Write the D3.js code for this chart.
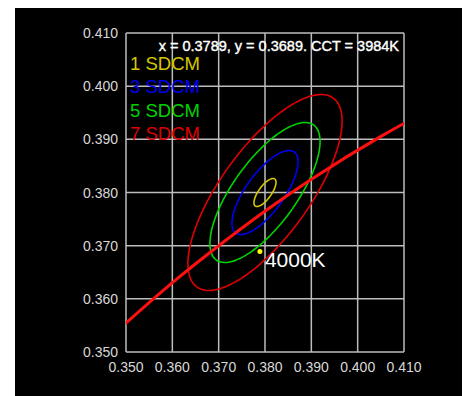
<!DOCTYPE html>
<html>
<head>
<script src="https://cdn.jsdelivr.net/npm/d3@7"></script>
<style>
  body { margin: 0; background: #fff; }
  text { font-family: "Liberation Sans", Arial, sans-serif; }
</style>
</head>
<body>
<svg width="466" height="396"></svg>
<script>
// axis ticks
var ticks = [0.350, 0.360, 0.370, 0.380, 0.390, 0.400, 0.410];

// planckian locus (CIE 1931 x, y), ascending x
var locusX = [0.3451, 0.3608, 0.3684, 0.3805, 0.3897, 0.4053, 0.4234, 0.4369];
var locusY = [0.3516, 0.3636, 0.3689, 0.3768, 0.3823, 0.3907, 0.3990, 0.4041];

// macadam ellipses: centre, 1-step semi axes, rotation (deg)
var ellCx = 0.3800, ellCy = 0.3800;
var ellA = 0.0033, ellB = 0.0013, ellTheta = 49;
var steps = [1, 3, 5, 7];
var stepLabels = ["1 SDCM", "3 SDCM", "5 SDCM", "7 SDCM"];
var stepColors = ["#d6c800", "#0000f0", "#00d400", "#e00000"];

// measured point
var ptX = 0.3789, ptY = 0.3689, cct = 3984;
var ptLabel = "4000K";

var svg = d3.select("svg");
svg.append("rect").attr("x", 15).attr("y", 8).attr("width", 447).attr("height", 388).attr("fill", "#000");

var x = d3.scaleLinear().domain([0.35, 0.41]).range([126, 404]);
var y = d3.scaleLinear().domain([0.35, 0.41]).range([352, 33]);

svg.append("clipPath").attr("id", "clip")
  .append("rect").attr("x", 126).attr("y", 33).attr("width", 278).attr("height", 319);

// grid
svg.selectAll(".gx").data(ticks).enter().append("line")
  .attr("x1", function(d){ return x(d) }).attr("x2", function(d){ return x(d) })
  .attr("y1", y(0.35)).attr("y2", y(0.41))
  .attr("stroke", "#bdbdbd").attr("stroke-width", 1.5)
svg.selectAll(".gy").data(ticks).enter().append("line")
  .attr("y1", function(d){ return y(d) }).attr("y2", function(d){ return y(d) })
  .attr("x1", x(0.35)).attr("x2", x(0.41))
  .attr("stroke", "#bdbdbd").attr("stroke-width", 1.5)

// tick labels
svg.selectAll(".tx").data(ticks).enter().append("text")
  .attr("x", function(d){ return x(d) }).attr("y", 372)
  .attr("text-anchor", "middle").attr("fill", "#d8d8d8").attr("font-size", 14)
  .text(function(d){ return d.toFixed(3) })
svg.selectAll(".ty").data(ticks).enter().append("text")
  .attr("x", 118).attr("y", function(d){ return y(d) + 5 })
  .attr("text-anchor", "end").attr("fill", "#d8d8d8").attr("font-size", 14)
  .text(function(d){ return d.toFixed(3) })

var plot = svg.append("g").attr("clip-path", "url(#clip)");

// ellipses
var angles = d3.range(0, 361, 3);
var th = ellTheta * Math.PI / 180;
plot.selectAll(".ell").data(steps).enter().append("path")
  .attr("fill", "none").attr("stroke-width", 1.6)
  .attr("stroke", function(d, i){ return stepColors[i] })
  .attr("d", function(n){
    var pts = angles.map(function(t){
      var r = t * Math.PI / 180;
      var u = n * ellA * Math.cos(r), v = n * ellB * Math.sin(r);
      return [ellCx + u * Math.cos(th) - v * Math.sin(th), ellCy + u * Math.sin(th) + v * Math.cos(th)];
    });
    return d3.line().x(function(p){ return x(p[0]) }).y(function(p){ return y(p[1]) })
      .curve(d3.curveCardinalClosed)(pts.slice(0, -1));
  })

// locus
var locus = locusX.map(function(d, i){ return [d, locusY[i]] });
plot.append("path").datum(locus)
  .attr("fill", "none").attr("stroke", "#ff1010").attr("stroke-width", 3)
  .attr("d", d3.line().x(function(p){ return x(p[0]) }).y(function(p){ return y(p[1]) }).curve(d3.curveMonotoneX))

// point
svg.append("circle").attr("cx", x(ptX)).attr("cy", y(ptY)).attr("r", 2.5).attr("fill", "#ffff00")
svg.append("text").attr("x", x(ptX) + 5).attr("y", y(ptY) + 15)
  .attr("fill", "#fff").attr("font-size", 21).text(ptLabel)

// legend
svg.selectAll(".leg").data(stepLabels).enter().append("text")
  .attr("x", 130).attr("y", function(d, i){ return 69.5 + i * 23.5 })
  .attr("fill", function(d, i){ return stepColors[i] }).attr("font-size", 18.5)
  .text(function(d){ return d })

svg.append("text").attr("x", 399).attr("y", 51)
  .attr("text-anchor", "end").attr("fill", "#fff").attr("font-size", 14.5)
  .attr("stroke", "#fff").attr("stroke-width", 0.4)
  .text("x = " + ptX.toFixed(4) + ", y = " + ptY.toFixed(4) + ". CCT = " + cct + "K")
</script>
</body>
</html>
